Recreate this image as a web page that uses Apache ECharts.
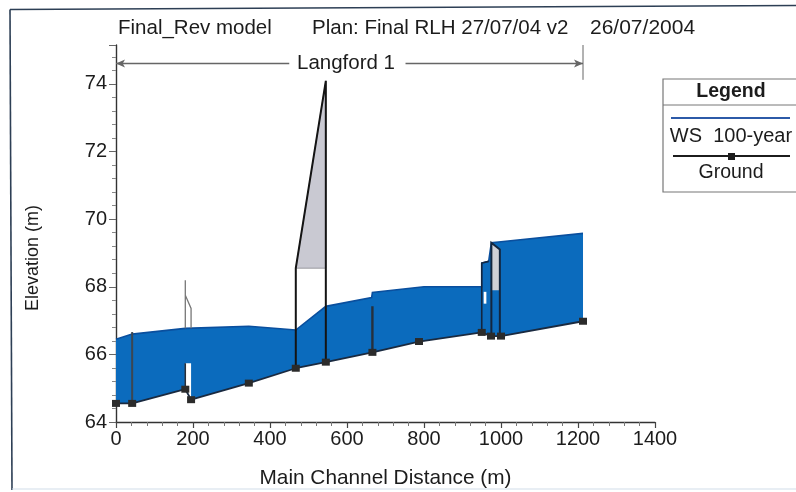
<!DOCTYPE html>
<html><head><meta charset="utf-8">
<style>html,body{margin:0;padding:0;background:#fff}#c{width:796px;height:492px}</style>
<script src="https://cdn.jsdelivr.net/npm/echarts@6/dist/echarts.min.js"></script>
</head><body><div id="c"></div>
<script>
const waterSurface=[[0,66.45],[42,66.6],[180,66.77],[345,66.83],[467,66.72],[545,67.42],[664,67.68],[666,67.83],[800,68.0],[950,68.0],[950,68.7],[968,68.75],[975,69.3],[1000,69.33],[1213,69.58]];
const ground=[[0,64.55],[42,64.55],[180,64.97],[195,64.66],[345,65.15],[467,65.59],[545,65.77],[666,66.06],[787,66.38],[950,66.65],[974,66.54],[1000,66.54],[1213,66.98]];
const bridgeGap=[[180,64.97],[180,65.74],[195,65.74],[195,64.66]];
const weirDeck=[[467,68.55],[545,74.09],[545,68.55]];
const weirOutline=[[467,65.59],[467,68.55],[545,74.09],[545,65.77]];
const rightDeck=[[975,69.28],[997,69.1],[997,67.9],[975,67.9]];
const rightPierA=[[950,66.65],[950,68.7],[968,68.75]];
const rightPierB=[[975,66.54],[975,69.3],[997,69.1],[997,66.54]];
const rightWhite=[[955,67.85],[962,67.85],[962,67.5],[955,67.5]];
const pierA=[[42,64.55],[42,66.66]];
const pierC=[[666,66.06],[666,67.42]];
const bridgeLeft=[[180,64.97],[180,65.74]];
const bridgeUpper=[[180,66.77],[180,68.19],[180,67.75],[195,67.36],[195,66.77]];
const reach=[0,1213];
const reachY=74.6;
const reachEnds=[[1213,74.12],[1213,75.15]];
const xTicks={min:0,max:1400,step:200};
const yTicks={min:64,max:75.15,step:2};
const titleText=['Final_Rev model','Plan: Final RLH 27/07/04 v2','26/07/2004'];
const reachLabel='Langford 1';
const legendItems=['WS  100-year','Ground'];

const FONT='"Liberation Sans",Arial,sans-serif', INK='#1c1c1c';
function poly(points,fill,z,line){
  return {type:'custom',coordinateSystem:'cartesian2d',silent:true,z:z,clip:true,data:points,
    renderItem:(p,api)=>{
      if(p.dataIndex!==0) return null;
      return {type:'polygon',shape:{points:points.map(q=>api.coord(q))},
        style:{fill:fill,stroke:line||null,lineWidth:line?1:0}};
    }};
}
function path(points,color,width,z){
  return {type:'line',data:points,showSymbol:false,silent:true,z:z,animation:false,
    lineStyle:{color:color,width:width,cap:'butt',join:'miter'}};
}
const waterPoly=waterSurface.concat(ground.slice().reverse());
const chart=echarts.init(document.getElementById('c'),null,{renderer:'canvas'});
chart.setOption({
  animation:false,backgroundColor:'#ffffff',
  grid:{left:116,right:141,top:45,bottom:70,containLabel:false,outerBoundsMode:'none'},
  xAxis:{type:'value',min:xTicks.min,max:xTicks.max,interval:xTicks.step,
    name:'Main Channel Distance (m)',nameLocation:'middle',nameGap:46,
    nameTextStyle:{fontFamily:FONT,fontSize:20.8,color:INK},
    axisLine:{onZero:false,lineStyle:{color:'#333',width:1.4}},
    axisTick:{length:6,lineStyle:{color:'#444',width:1.2}},
    minorTick:{show:true,splitNumber:5,length:4,lineStyle:{color:'#777'}},
    axisLabel:{fontFamily:FONT,fontSize:20,color:INK,margin:7,hideOverlap:false,
      formatter:v=>String(v)},
    splitLine:{show:false}},
  yAxis:{type:'value',min:yTicks.min,max:yTicks.max,interval:yTicks.step,
    axisLine:{onZero:false,lineStyle:{color:'#333',width:1.4}},
    axisTick:{length:7,lineStyle:{color:'#666',width:1}},
    minorTick:{show:true,splitNumber:5,length:4,lineStyle:{color:'#888'}},
    axisLabel:{fontFamily:FONT,fontSize:20,color:INK,margin:9,showMaxLabel:false,
      formatter:v=>Number.isInteger(v)?String(v):''},
    splitLine:{show:false}},
  series:[
    poly(waterPoly,'#0b6bbd',2),
    poly(bridgeGap,'#ffffff',3),
    poly(weirDeck,'#c9c9d2',3,'#9a9aa0'),
    poly(rightDeck,'#cfd0d6',3),
    poly(rightWhite,'#ffffff',3),
    path(waterSurface,'#0a4f9e',1.6,4),
    path(pierA,'#3c4650',2,5),
    path(pierC,'#26303c',2.4,5),
    path(bridgeLeft,'#2a2f38',1.5,5),
    path(bridgeUpper,'#777777',1.3,5),
    path(weirOutline,'#141414',2,5),
    path(rightPierA,'#13263f',1.6,5),
    path(rightPierB,'#13263f',2,5),
    path(reachEnds,'#666666',1,5),
    {type:'line',data:ground,z:6,silent:true,symbol:'rect',symbolSize:[8,7],
      itemStyle:{color:'#2b2b2b'},lineStyle:{color:'#1a2a40',width:1.8}},
    {type:'line',data:[],silent:true,
      markLine:{silent:true,animation:false,symbol:['arrow','none'],symbolSize:[6,9],precision:2,
        label:{show:false},lineStyle:{color:'#666',width:1.3,type:'solid'},
        data:[[{coord:[reach[0],reachY]},{coord:[450,reachY]}],
              [{coord:[reach[1],reachY]},{coord:[752,reachY]}]]}}
  ],
  graphic:[
    {type:'line',silent:true,z:0,shape:{x1:10,y1:9.5,x2:796,y2:5.5},style:{stroke:'#2d3f55',lineWidth:1.6}},
    {type:'line',silent:true,z:0,shape:{x1:10,y1:9.5,x2:12,y2:490},style:{stroke:'#2d3f55',lineWidth:1.6}},
    {type:'line',silent:true,z:0,shape:{x1:12,y1:489,x2:796,y2:489},style:{stroke:'#d2deea',lineWidth:1.2}},
    {type:'text',x:118,y:18,style:{text:titleText[0],font:'20.5px '+FONT,fill:INK}},
    {type:'text',x:312,y:18,style:{text:titleText[1],font:'20.5px '+FONT,fill:INK}},
    {type:'text',x:590,y:18,style:{text:titleText[2],font:'21px '+FONT,fill:INK}},
    {type:'text',x:297,y:53,style:{text:reachLabel,font:'20.5px '+FONT,fill:INK}},
    {type:'text',x:33,y:258,rotation:Math.PI/2,style:{text:'Elevation (m)',font:'18px '+FONT,fill:INK,align:'center',verticalAlign:'middle'}},
    {type:'rect',shape:{x:663,y:79,width:140,height:113},style:{fill:'#fff',stroke:'#777',lineWidth:1.2}},
    {type:'line',shape:{x1:663,y1:105,x2:796,y2:105},style:{stroke:'#777',lineWidth:1}},
    {type:'text',x:731,y:92,style:{text:'Legend',font:'bold 19.5px '+FONT,fill:INK,align:'center',verticalAlign:'middle'}},
    {type:'line',shape:{x1:671,y1:118,x2:790,y2:118},style:{stroke:'#2c5aa8',lineWidth:2}},
    {type:'text',x:731,y:136,style:{text:legendItems[0],font:'20px '+FONT,fill:INK,align:'center',verticalAlign:'middle'}},
    {type:'line',shape:{x1:673,y1:156,x2:790,y2:156},style:{stroke:'#1c1c1c',lineWidth:1.8}},
    {type:'rect',shape:{x:728,y:153,width:7,height:7},style:{fill:'#1c1c1c'}},
    {type:'text',x:731,y:173,style:{text:legendItems[1],font:'19.5px '+FONT,fill:INK,align:'center',verticalAlign:'middle'}}
  ]
});
</script></body></html>
